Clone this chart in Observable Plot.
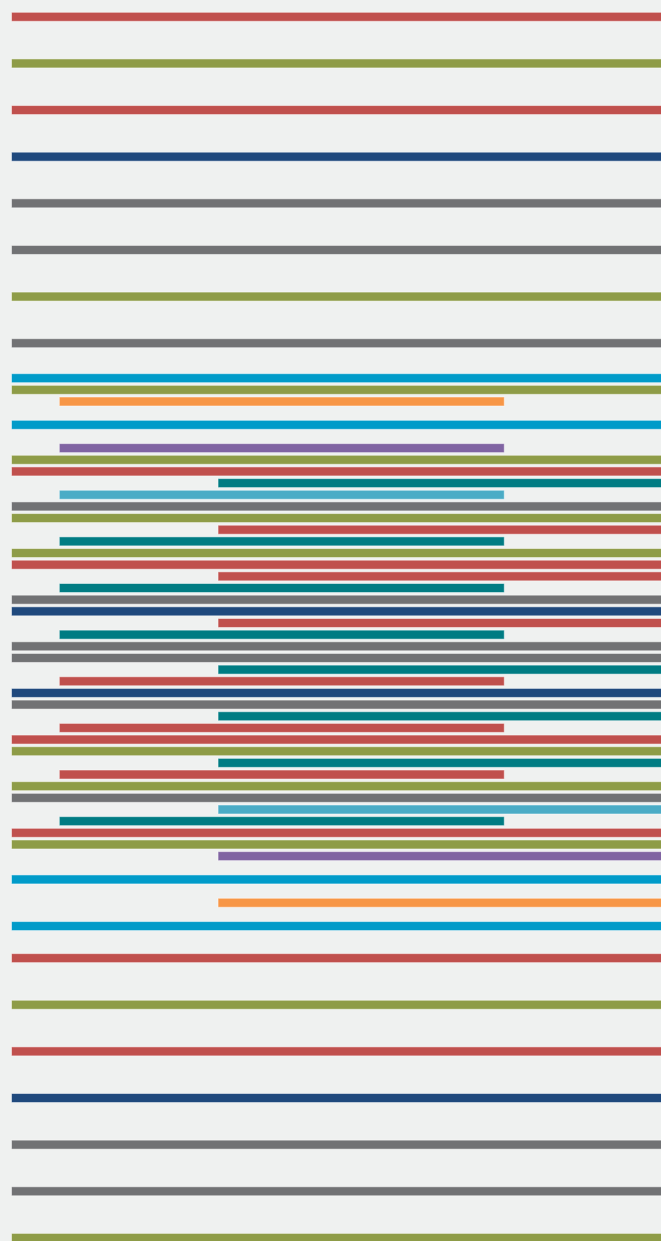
<!DOCTYPE html>
<html>
<head>
<meta charset="utf-8">
<script src="https://cdn.jsdelivr.net/npm/d3@7"></script>
<script src="https://cdn.jsdelivr.net/npm/@observablehq/plot@0.6"></script>
<style>
  html, body { margin: 0; padding: 0; background: #eff1f0; overflow: hidden; }
  #chart svg { display: block; }
</style>
</head>
<body>
<div id="chart"></div>
<script>
// Row position of each bar (in row units)
const rows = [
  0, 4, 8, 12, 16, 20, 24, 28,
  31, 32, 33, 35, 37, 38, 39, 40, 41, 42, 43, 44, 45, 46, 47, 48, 49, 50,
  51, 52, 53, 54, 55, 56, 57, 58, 59, 60, 61, 62, 63, 64, 65, 66, 67, 68,
  69, 70, 71, 72, 74, 76, 78,
  80.75, 84.75, 88.75, 92.75, 96.75, 100.75, 104.75
];
// Category (colour group) of each bar
const cats = [
  "rust", "moss", "rust", "ink", "stone", "stone", "moss", "stone",
  "sky", "moss", "amber", "sky", "grape", "moss", "rust", "sea", "ice", "stone", "moss", "rust", "sea", "moss", "rust", "rust", "sea", "stone",
  "ink", "rust", "sea", "stone", "stone", "sea", "rust", "ink", "stone", "sea", "rust", "rust", "moss", "sea", "rust", "moss", "stone", "ice",
  "sea", "rust", "moss", "grape", "sky", "amber", "sky",
  "rust", "moss", "rust", "ink", "stone", "stone", "moss"
];
// Span of each bar: full, mid or right
const spans = [
  "full", "full", "full", "full", "full", "full", "full", "full",
  "full", "full", "mid", "full", "mid", "full", "full", "right", "mid", "full", "full", "right", "mid", "full", "full", "right", "mid", "full",
  "full", "right", "mid", "full", "full", "right", "mid", "full", "full", "right", "mid", "full", "full", "right", "mid", "full", "full", "right",
  "mid", "full", "full", "right", "full", "right", "full",
  "full", "full", "full", "full", "full", "full", "full"
];
// Start / end values for each span type
const spanNames = ["full", "mid", "right"];
const spanStart = [0, 7.36, 31.8];
const spanEnd = [101, 75.87, 101];

const catNames = ["rust", "moss", "ink", "stone", "sky", "amber", "grape", "sea", "ice"];
const catColors = ["#c0504d", "#8e9c47", "#1f497d", "#717274", "#009bc9", "#f79646", "#8064a2", "#007c83", "#4bacc6"];

const data = rows.map((r, i) => {
  const k = spanNames.indexOf(spans[i]);
  return { row: r, cat: cats[i], start: spanStart[k], end: spanEnd[k] };
});

const half = 0.386;

const chart = Plot.plot({
  width: 661,
  height: 1241,
  marginTop: 16.8,
  marginBottom: 3.1,
  marginLeft: 11.5,
  marginRight: 0,
  style: { background: "#eff1f0", overflow: "hidden" },
  x: { domain: [0, 100], axis: null },
  y: { domain: [0, 104.75], reverse: true, axis: null },
  color: { type: "ordinal", domain: catNames, range: catColors },
  marks: [
    Plot.rect(data, {
      x1: "start",
      x2: "end",
      y1: d => d.row - half,
      y2: d => d.row + half,
      fill: "cat",
      stroke: "white",
      strokeOpacity: 0.5,
      strokeWidth: 1
    })
  ]
});
document.getElementById("chart").appendChild(chart);
</script>
</body>
</html>
